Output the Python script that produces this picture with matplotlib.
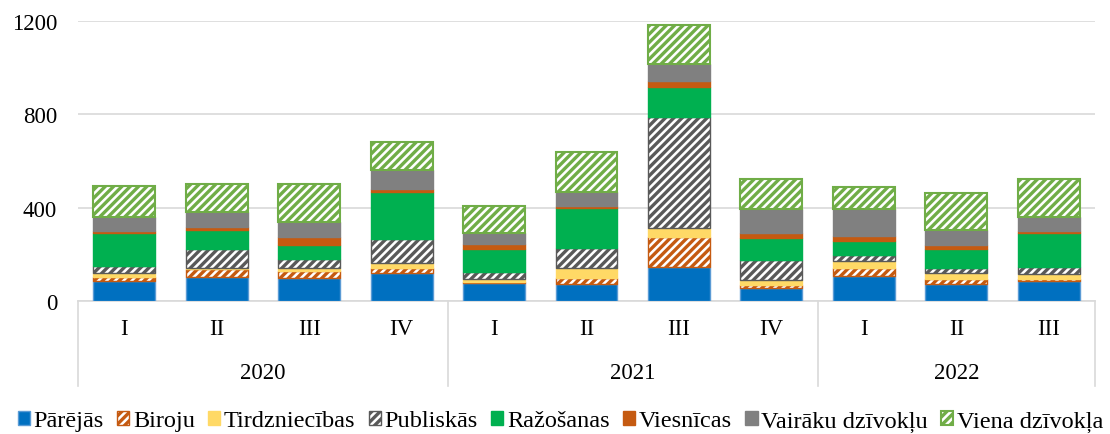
import matplotlib.pyplot as plt
import numpy as np

plt.rcParams['font.family'] = ['Liberation Serif', 'DejaVu Serif']
plt.rcParams['hatch.linewidth'] = 2.4

quarters = ['I', 'II', 'III', 'IV', 'I', 'II', 'III', 'IV', 'I', 'II', 'III']
years = ['2020', '2021', '2022']
year_counts = [4, 4, 3]

# values per quarter (stacked from bottom)
parejas = [87, 101, 100, 121, 77, 71, 147, 57, 108, 75, 87]
biroju = [14, 36, 30, 19, 5, 26, 126, 11, 32, 19, 7]
tirdzniecibas = [19, 5, 10, 22, 12, 45, 42, 23, 32, 24, 21]
publiskas = [28, 80, 42, 103, 31, 87, 474, 85, 24, 24, 29]
razosanas = [142, 81, 60, 202, 97, 171, 130, 93, 62, 80, 146]
viesnicas = [10, 16, 33, 14, 21, 7, 26, 21, 21, 18, 10]
vairaku = [60, 64, 64, 82, 47, 61, 70, 103, 117, 63, 60]
viena = [135, 117, 162, 120, 117, 170, 169, 128, 94, 161, 161]

series = [
    ('Pārējās', parejas, dict(color='#0070C0', edgecolor='#5B9BD5', linewidth=1)),
    ('Biroju', biroju, dict(facecolor='white', edgecolor='#C55A11', hatch='////', linewidth=1)),
    ('Tirdzniecības', tirdzniecibas, dict(color='#FFD966', edgecolor='#FFD966', linewidth=1)),
    ('Publiskās', publiskas, dict(facecolor='white', edgecolor='#595959', hatch='////', linewidth=1)),
    ('Ražošanas', razosanas, dict(color='#00B050', edgecolor='#00B050', linewidth=1)),
    ('Viesnīcas', viesnicas, dict(color='#C55A11', edgecolor='#C55A11', linewidth=1)),
    ('Vairāku dzīvokļu', vairaku, dict(color='#808080', edgecolor='#808080', linewidth=1)),
    ('Viena dzīvokļa', viena, dict(facecolor='white', edgecolor='#70AD47', hatch='////', linewidth=1.5)),
]

fig = plt.figure(figsize=(11.1, 4.35), dpi=100)
ax = fig.add_axes([0.0703, 0.3057, 0.9162, 0.6437])

x = np.arange(len(quarters))
bottom = np.zeros(len(quarters))
for name, vals, style in series:
    ax.bar(x, vals, 0.67, bottom=bottom, label=name, zorder=3, **style)
    bottom += np.array(vals)

ax.set_xlim(-0.5, len(quarters) - 0.5)
ax.set_ylim(0, 1200)
ax.set_yticks([0, 400, 800, 1200])
ax.tick_params(axis='y', length=0, labelsize=16.5, pad=15)
ax.set_xticks(x)
ax.set_xticklabels(quarters)
ax.tick_params(axis='x', length=0, labelsize=16.5, pad=12)
ax.grid(axis='y', color='#D9D9D9', linewidth=1.2, zorder=0)
for s in ['top', 'right', 'left']:
    ax.spines[s].set_visible(False)
ax.spines['bottom'].set_color('#D9D9D9')
ax.spines['bottom'].set_linewidth(1.2)

# year groups with separators
trans = ax.get_xaxis_transform()
start = 0
bounds = [-0.5]
for yr, n in zip(years, year_counts):
    ax.text(start + (n - 1) / 2, -0.255, yr, transform=trans, ha='center', va='center', fontsize=16.5)
    start += n
    bounds.append(start - 0.5)
for b in bounds:
    ax.plot([b, b], [0, -0.305], transform=trans, color='#D9D9D9', linewidth=1.2, clip_on=False)

fig.legend(loc='center', bbox_to_anchor=(0.505, 0.03), ncol=8, frameon=False, fontsize=17.5,
           handlelength=0.5, handleheight=0.5, handletextpad=0.15, columnspacing=0.55,
           borderpad=0.1)

fig.savefig('out.png', dpi=100)
